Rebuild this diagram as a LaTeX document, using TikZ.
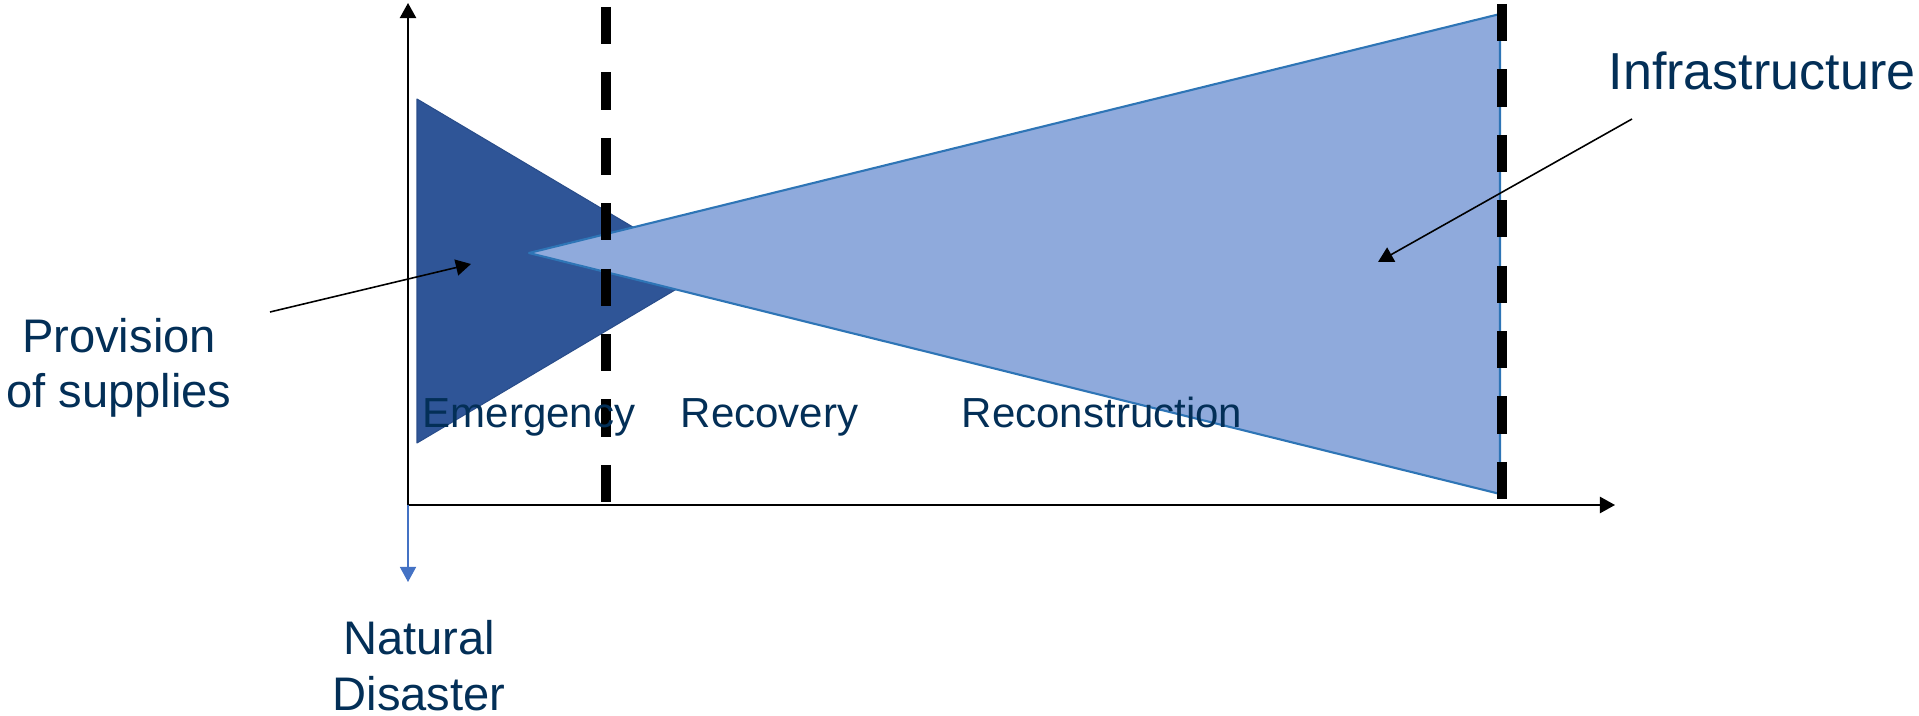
\documentclass[tikz,border=0pt]{standalone}
\usepackage{fontspec}
\setmainfont{Liberation Sans}
\usetikzlibrary{arrows.meta}
\definecolor{darkfill}{RGB}{47,85,151}
\definecolor{darkedge}{RGB}{41,77,138}
\definecolor{lightfill}{RGB}{143,170,220}
\definecolor{lightedge}{RGB}{46,117,182}
\definecolor{navy}{RGB}{3,47,87}
\definecolor{downblue}{RGB}{68,114,196}
\tikzset{
  lbl/.style={text=navy, inner sep=0pt, anchor=base, align=center},
  phase/.style={lbl, font=\fontsize{11.95}{14.3}\selectfont},
  side/.style={lbl, font=\fontsize{13.4}{15.9}\selectfont},
  border/.style={line width=2.6pt, dash pattern=on 10.6pt off 8pt}
}
\begin{document}
\begin{tikzpicture}[x=0.01cm, y=-0.01cm,
            line join=round, >={Triangle[length=4.3pt,width=4.6pt]}]
            \useasboundingbox (0,0) rectangle (1919,716);
            % axes
            \coordinate (O) at (408,505);
            \coordinate (ytip) at (408,3);
            \coordinate (xtip) at (1615,505);
            \coordinate (dtip) at (408,582);
            % phases as triangles
            \fill[darkfill, draw=darkedge, line width=0.3pt] (417,99) -- (417,443) -- (707,271) -- cycle;
            \fill[lightfill, draw=lightedge, line width=0.6pt] (529,253) -- (1500,14) -- (1500,494) -- cycle;
            \coordinate (b1top) at (606,7);
            \coordinate (b1bot) at (606,503);
            \coordinate (b2top) at (1502,4);
            \coordinate (b2bot) at (1502,499);
            \draw[border] (b1top) -- (b1bot);
            \draw[border] (b2top) -- (b2bot);
            \draw[->, line width=0.6pt] (O) -- (ytip);
            \draw[->, line width=0.6pt] (O) -- (xtip);
            \draw[->, downblue, line width=0.35pt] (O) -- (dtip);
            % labels
            \node[phase] (emer) at (529,428) {Emergency};
            \node[phase] (reco) at (769.5,428) {Recovery};
            \node[phase] (recon) at (1102,428) {Reconstruction};
            \node[lbl, font=\fontsize{14.8}{17.6}\selectfont] (infra) at (1762,90) {Infrastructure};
            \node[side] (prov) at (119,408) {Provision\\of supplies};
            \node[side] (nat) at (419,710) {Natural\\Disaster};
            \coordinate (provs) at (270,312);
            \coordinate (provt) at (471,264);
            \coordinate (infras) at (1632,119);
            \coordinate (infrat) at (1378,262);
            \draw[->, line width=0.45pt] (provs) -- (provt);
            \draw[->, line width=0.45pt] (infras) -- (infrat);
        \end{tikzpicture}
\end{document}
